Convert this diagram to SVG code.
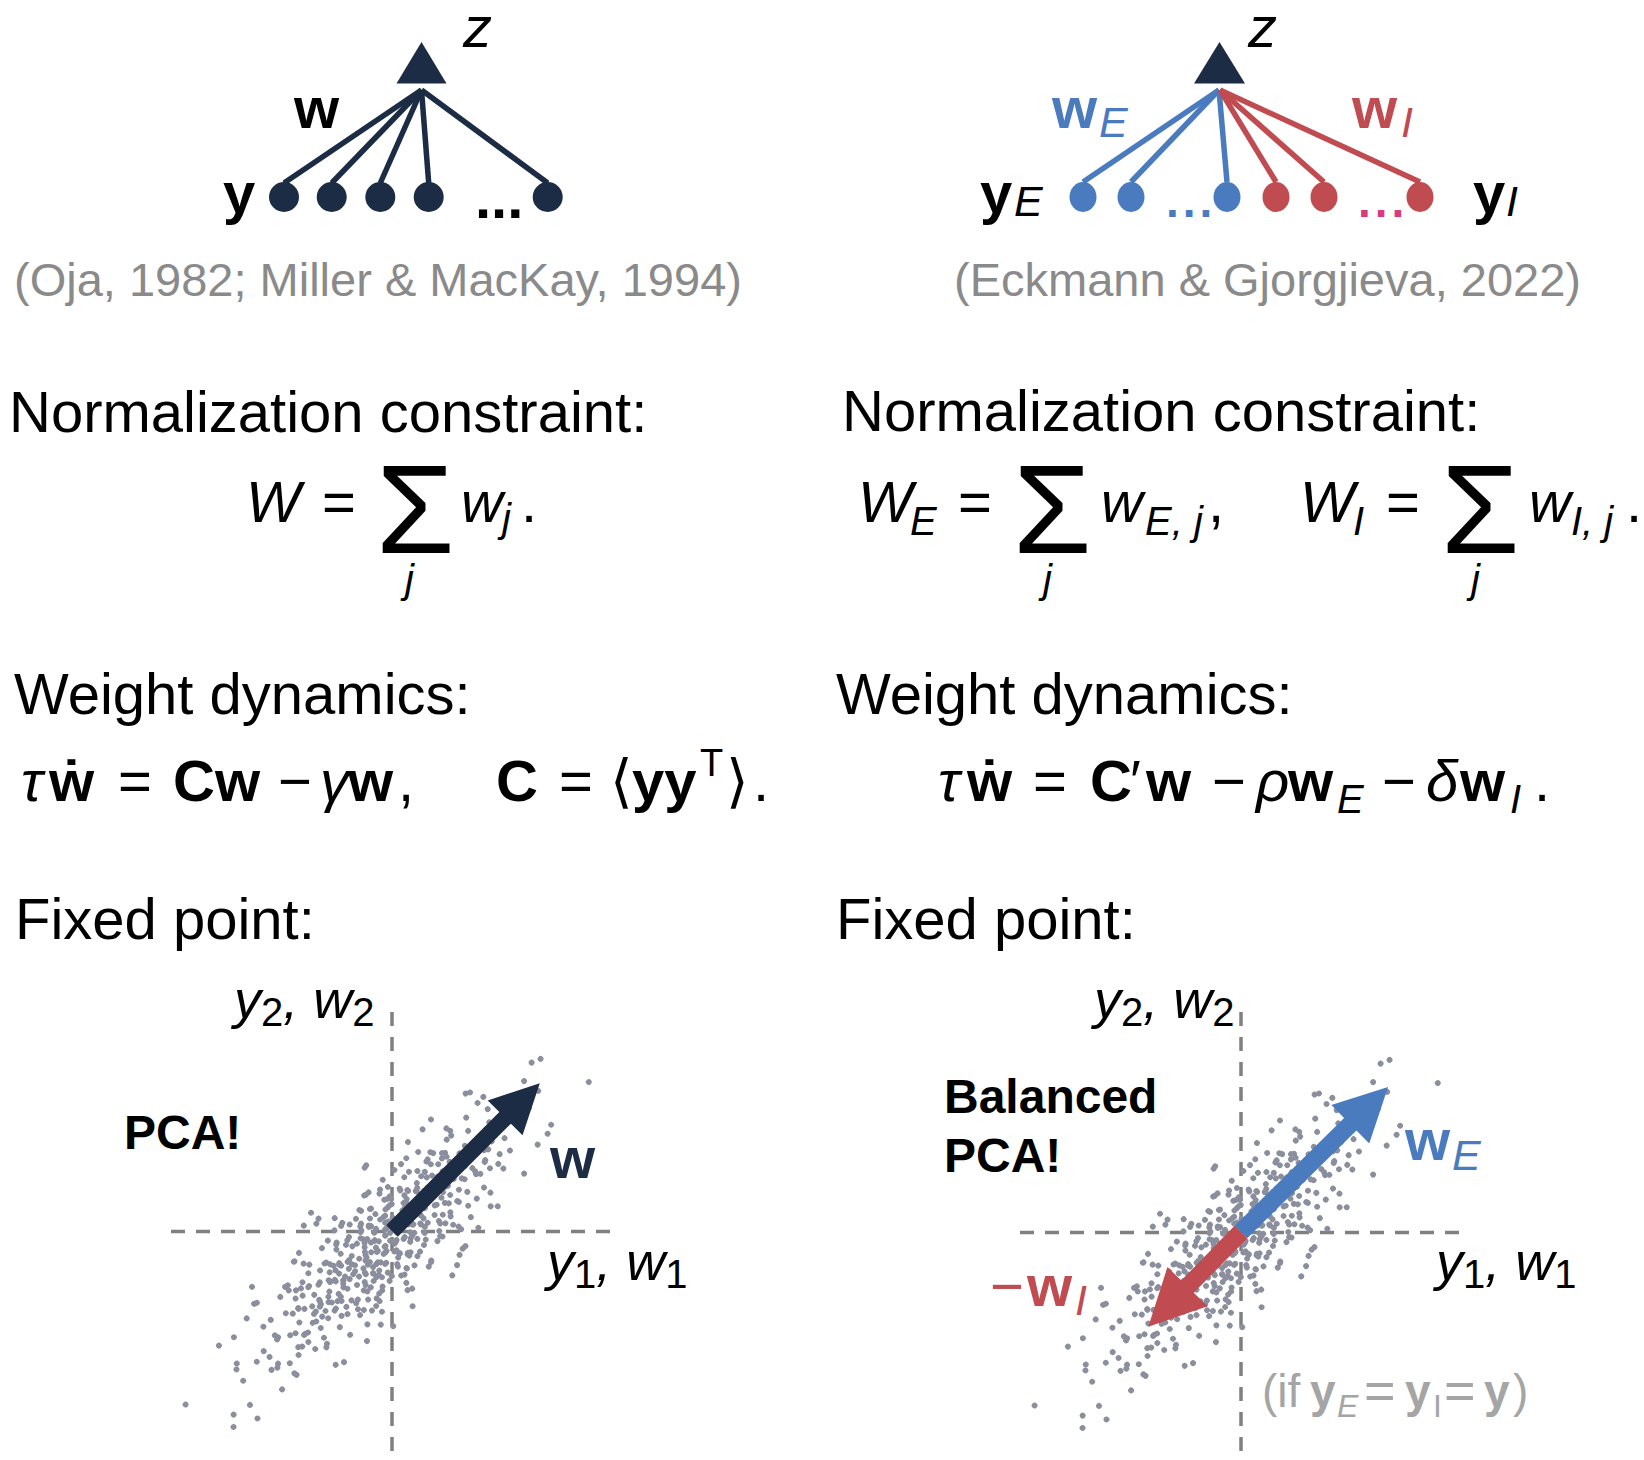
<svg xmlns="http://www.w3.org/2000/svg" width="1644" height="1460" viewBox="0 0 1644 1460">
<style>
.i{font-style:italic}
.b{font-weight:bold}
.cite{fill:#8a8a8a}
.navy{fill:#1b2c44}
.blue{fill:#4b7bbf}
.red{fill:#c04b50}
.pink{fill:#d83a7c}
.gr{fill:#a5a5a5}
.ax{stroke:#808080;stroke-width:3.5;stroke-dasharray:14 11;fill:none}
.pt{fill:none;stroke:#8b8e9c;stroke-width:5.8;stroke-linecap:round;vector-effect:non-scaling-stroke}
.ln{stroke-width:5.5;fill:none}
</style>
<defs>
<g id="pts">
<path class="pt" d="M1.5 14.1h0.01M4.3 -36.3h0.01M7.2 7.9h0.01M10.1 24.9h0.01M13 -2h0.01M15.9 -17h0.01M18.9 44.4h0.01M21.8 -10.5h0.01M24.7 29.1h0.01M27.8 -4.5h0.01M30.8 -20.2h0.01M33.9 64.9h0.01M37.1 13.2h0.01M40.2 -34.3h0.01M43.4 7h0.01M46.6 -23.7h0.01M50 -1.2h0.01M53.4 16h0.01M56.8 -41.3h0.01M60.3 9.6h0.01M63.8 27.7h0.01M67.6 -3.7h0.01M71.4 -19.1h0.01M75.3 54.1h0.01M79.5 -12.3h0.01M83.7 32.4h0.01M88.2 -6.2h0.01M92.9 22.5h0.01M97.9 0.4h0.01M103.1 -15.1h0.01M108.7 38.6h0.01M114.7 -8.7h0.01M121.3 -26.3h0.01M128.5 2.9h0.01M136.6 -18h0.01M146 48.4h0.01M157.2 11.4h0.01M171.4 -30.7h0.01M191.4 5.3h0.01M229.8 -21.3h0.01M-1.5 -20.2h0.01M-4.3 3.7h0.01M-7.2 -26.3h0.01M-10.1 7.9h0.01M-13 34.3h0.01M-15.9 -12.3h0.01M-18.9 48.4h0.01M-21.8 -17h0.01M-24.7 -1.2h0.01M-27.8 22.5h0.01M-30.8 -5.3h0.01M-33.9 29.1h0.01M-37.1 9.6h0.01M-40.2 -38.6h0.01M-43.4 14.1h0.01M-46.6 -64.9h0.01M-50 19.1h0.01M-53.4 -2.9h0.01M-56.8 -24.9h0.01M-60.3 7h0.01M-63.8 32.4h0.01M-67.6 -11.4h0.01M-71.4 44.4h0.01M-75.3 -16h0.01M-79.5 -0.4h0.01M-83.7 21.3h0.01M-88.2 -4.5h0.01M-92.9 27.7h0.01M-97.9 8.7h0.01M-103.1 -36.3h0.01M-108.7 -13.2h0.01M-114.7 54.1h0.01M-121.3 -18h0.01M-128.5 2h0.01M-136.6 -23.7h0.01M-146 -6.2h0.01M-157.2 30.7h0.01M-171.4 10.5h0.01M-191.4 -41.3h0.01M-229.8 15.1h0.01"/>
</g>
<g id="cloud">
<use href="#pts"/>
<use href="#pts" transform="rotate(180) scale(0.92)"/>
<use href="#pts" transform="rotate(2) scale(1.12,-1)"/>
<use href="#pts" transform="rotate(-2) scale(-0.85,0.95)"/>
<use href="#pts" transform="rotate(-1) scale(-1.04,-0.9)"/>
<use href="#pts" transform="rotate(1) scale(0.72,1.05)"/>
</g>
</defs>
<rect width="1644" height="1460" fill="#fff"/>
<g font-family="'Liberation Sans', Arial, 'DejaVu Sans', sans-serif" font-size="58" fill="#000">

<!-- ===== Top-left network ===== -->
<g id="connectors-left" class="ln" stroke="#1b2c44">
<line x1="421.5" y1="90" x2="284" y2="183"/>
<line x1="421.5" y1="90" x2="331.7" y2="183"/>
<line x1="421.5" y1="90" x2="380.3" y2="183"/>
<line x1="421.5" y1="90" x2="428.7" y2="183"/>
<line x1="421.5" y1="90" x2="547.7" y2="183"/>
</g>
<g id="node-z-left"><polygon class="navy" points="421.5,42 396.5,83.5 446.5,83.5"/><text class="i" x="463" y="47">z</text></g>
<g id="node-y1"><circle class="navy" cx="284" cy="197" r="15"/></g>
<g id="node-y2"><circle class="navy" cx="331.7" cy="197" r="15"/></g>
<g id="node-y3"><circle class="navy" cx="380.3" cy="197" r="15"/></g>
<g id="node-y4"><circle class="navy" cx="428.7" cy="197" r="15"/></g>
<g id="node-yn"><circle class="navy" cx="547.7" cy="197" r="15"/></g>
<text class="b" x="294" y="128">w</text>
<text class="b" x="223" y="213">y</text>
<text class="b" x="475" y="218">...</text>
<text class="cite" font-size="47" x="14" y="296">(Oja, 1982; Miller &amp; MacKay, 1994)</text>

<!-- ===== Top-right network ===== -->
<g id="connectors-right" class="ln">
<line stroke="#4b7bbf" x1="1219" y1="90" x2="1083" y2="182"/>
<line stroke="#4b7bbf" x1="1219" y1="90" x2="1131" y2="182"/>
<line stroke="#4b7bbf" x1="1219" y1="90" x2="1227" y2="182"/>
<line stroke="#c04b50" x1="1220" y1="90" x2="1276" y2="182"/>
<line stroke="#c04b50" x1="1220" y1="90" x2="1324" y2="182"/>
<line stroke="#c04b50" x1="1220" y1="90" x2="1420" y2="182"/>
</g>
<g id="node-z-right"><polygon class="navy" points="1219.5,42 1194,83.5 1245,83.5"/><text class="i" x="1248" y="47">z</text></g>
<g id="node-yE1"><ellipse class="blue" cx="1083" cy="197" rx="13.5" ry="15"/></g>
<g id="node-yE2"><ellipse class="blue" cx="1131" cy="197" rx="13.5" ry="15"/></g>
<g id="node-yEn"><ellipse class="blue" cx="1227" cy="197" rx="13.5" ry="15"/></g>
<g id="node-yI1"><ellipse class="red" cx="1276" cy="197" rx="13.5" ry="15"/></g>
<g id="node-yI2"><ellipse class="red" cx="1324" cy="197" rx="13.5" ry="15"/></g>
<g id="node-yIn"><ellipse class="red" cx="1420" cy="197" rx="13.5" ry="15"/></g>
<text class="b blue" x="1052" y="128">w</text><text class="i blue" font-size="43" x="1099" y="137">E</text>
<text class="b red" x="1352" y="128">w</text><text class="i red" font-size="43" x="1401" y="137">I</text>
<text class="b" x="980" y="213">y</text><text class="i" font-size="43" x="1014" y="216">E</text>
<text class="b" x="1473" y="213">y</text><text class="i" font-size="43" x="1506" y="216">I</text>
<text class="blue b" font-size="46" x="1166" y="217" letter-spacing="4">...</text>
<text class="pink b" font-size="46" x="1358" y="217" letter-spacing="4">...</text>
<text class="cite" font-size="47" x="954" y="296">(Eckmann &amp; Gjorgjieva, 2022)</text>

<!-- ===== Normalization ===== -->
<text x="9" y="432">Normalization constraint:</text>
<text x="842" y="431">Normalization constraint:</text>

<text class="i" x="246" y="522">W</text>
<text x="322" y="522">=</text>
<text font-size="127" x="376" y="553">Σ</text>
<text class="i" font-size="40" x="405" y="593">j</text>
<text class="i" x="461" y="522">w</text>
<text class="i" font-size="40" x="502" y="532">j</text>
<text x="521" y="522">.</text>

<text class="i" x="858" y="522">W</text><text class="i" font-size="40" x="910" y="535">E</text>
<text x="958" y="522">=</text>
<text font-size="127" x="1013" y="553">Σ</text>
<text class="i" font-size="40" x="1043" y="593">j</text>
<text class="i" x="1101" y="522">w</text><text class="i" font-size="40" x="1145" y="535">E, j</text><text x="1208" y="522">,</text>
<text class="i" x="1300" y="522">W</text><text class="i" font-size="40" x="1353" y="535">I</text>
<text x="1386" y="522">=</text>
<text font-size="127" x="1441" y="553">Σ</text>
<text class="i" font-size="40" x="1471" y="593">j</text>
<text class="i" x="1529" y="522">w</text><text class="i" font-size="40" x="1571" y="535">I, j</text><text x="1626" y="522">.</text>

<!-- ===== Weight dynamics ===== -->
<text x="14" y="714">Weight dynamics:</text>
<text x="836" y="714">Weight dynamics:</text>

<text class="i" x="21" y="801">τ</text>
<text class="b" x="49" y="801">w</text><text class="b" x="71.5" y="801" text-anchor="middle">˙</text>
<text x="118" y="801">=</text>
<text class="b" x="173" y="801">Cw</text>
<text x="278" y="801">−</text>
<text class="i" x="320" y="801">γ</text>
<text class="b" x="348" y="801">w</text>
<text x="398" y="801">,</text>
<text class="b" x="496" y="801">C</text>
<text x="559" y="801">=</text>
<text x="610" y="801" font-family="'DejaVu Sans', sans-serif">⟨</text>
<text class="b" x="632" y="801">yy</text>
<text font-size="38" x="700" y="776">T</text>
<text x="726" y="801" font-family="'DejaVu Sans', sans-serif">⟩</text>
<text x="753" y="801">.</text>

<text class="i" x="938" y="801">τ</text>
<text class="b" x="967" y="801">w</text><text class="b" x="989.5" y="801" text-anchor="middle">˙</text>
<text x="1033" y="801">=</text>
<text class="b" x="1090" y="801">C</text>
<text x="1130" y="801">′</text>
<text class="b" x="1146" y="801">w</text>
<text x="1212" y="801">−</text>
<text class="i" x="1256" y="801">ρ</text>
<text class="b" x="1288" y="801">w</text><text class="i" font-size="40" x="1337" y="813">E</text>
<text x="1382" y="801">−</text>
<text class="i" x="1426" y="801">δ</text>
<text class="b" x="1460" y="801">w</text><text class="i" font-size="40" x="1510" y="813">I</text>
<text x="1534" y="801">.</text>

<!-- ===== Fixed point ===== -->
<text x="15" y="939">Fixed point:</text>
<text x="836" y="939">Fixed point:</text>

<!-- left plot -->
<g id="plot-left">
<line class="ax" x1="171" y1="1231.5" x2="611" y2="1231.5"/>
<line class="ax" x1="392" y1="1012" x2="392" y2="1455"/>
<g transform="translate(392,1231) rotate(-45) translate(-12,2) scale(1,1.05)"><use href="#cloud"/></g>
<g id="arrow-w" transform="translate(392,1231) rotate(-45)">
<polygon class="navy" points="0,-8.2 160,-8.2 160,-24.6 209,0 160,24.6 160,8.2 0,8.2"/>
</g>
<text class="i" font-size="54" x="234" y="1018">y<tspan font-style="normal" font-size="40" dy="8">2</tspan><tspan dy="-8">, w</tspan><tspan font-style="normal" font-size="40" dy="8">2</tspan></text>
<text class="i" font-size="54" x="547" y="1280">y<tspan font-style="normal" font-size="40" dy="8">1</tspan><tspan dy="-8">, w</tspan><tspan font-style="normal" font-size="40" dy="8">1</tspan></text>
<text class="b" font-size="48" x="124" y="1149">PCA!</text>
<text class="b navy" x="550" y="1178">w</text>
</g>

<!-- right plot -->
<g id="plot-right">
<line class="ax" x1="1020" y1="1232.5" x2="1460" y2="1232.5"/>
<line class="ax" x1="1241" y1="1012" x2="1241" y2="1455"/>
<g transform="translate(1241,1232) rotate(-45) translate(-12,2) scale(1,1.05)"><use href="#cloud"/></g>
<g id="arrow-wI" transform="translate(1241,1232) rotate(134.4)">
<polygon class="red" points="0,-8.8 76.5,-8.8 76.5,-28 132.5,0 76.5,28 76.5,8.8 0,8.8"/>
</g>
<g id="arrow-wE" transform="translate(1241,1232) rotate(-44.6)">
<polygon class="blue" points="0,-8.8 153.5,-8.8 153.5,-27 206.5,0 153.5,27 153.5,8.8 0,8.8"/>
</g>
<text class="i" font-size="54" x="1094" y="1018">y<tspan font-style="normal" font-size="40" dy="8">2</tspan><tspan dy="-8">, w</tspan><tspan font-style="normal" font-size="40" dy="8">2</tspan></text>
<text class="i" font-size="54" x="1436" y="1280">y<tspan font-style="normal" font-size="40" dy="8">1</tspan><tspan dy="-8">, w</tspan><tspan font-style="normal" font-size="40" dy="8">1</tspan></text>
<text class="b" font-size="48" x="944" y="1113">Balanced</text>
<text class="b" font-size="48" x="944" y="1172">PCA!</text>
<text class="b blue" x="1405" y="1160">w</text><text class="i blue" font-size="43" x="1452" y="1170">E</text>
<text class="red" x="990" y="1306">−</text><text class="b red" x="1027" y="1306">w</text><text class="i red" font-size="43" x="1075" y="1315">I</text>
<text class="gr" font-size="46" x="1262" y="1407">(if</text>
<text class="gr b" font-size="46" x="1310" y="1407">y</text>
<text class="gr i" font-size="32" x="1337" y="1417">E</text>
<text class="gr" font-size="54" x="1364" y="1409">=</text>
<text class="gr b" font-size="46" x="1405" y="1407">y</text>
<text class="gr" font-size="32" x="1433" y="1417">I</text>
<text class="gr" font-size="54" x="1444" y="1409">=</text>
<text class="gr b" font-size="46" x="1484" y="1407">y</text>
<text class="gr" font-size="46" x="1513" y="1407">)</text>
</g>
</g>
</svg>
